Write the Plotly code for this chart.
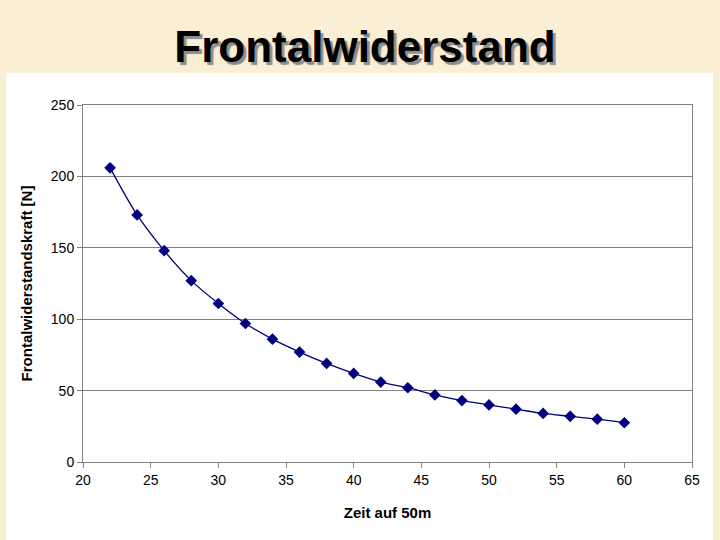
import plotly.graph_objects as go

# Frontalwiderstand over time on 50 m
zeit = [22, 24, 26, 28, 30, 32, 34, 36, 38, 40, 42, 44, 46, 48, 50, 52, 54, 56, 58, 60]
kraft = [206, 173, 148, 127, 111, 97, 86, 77, 69, 62, 56, 52, 47, 43, 40, 37, 34, 32, 30, 27.5]

x_ticks = [20, 25, 30, 35, 40, 45, 50, 55, 60, 65]
y_ticks = [0, 50, 100, 150, 200, 250]

NAVY = "#000080"
PLOT_GRAY = "#C0C0C0"
GRID = "#808080"
PARCHMENT = "#FAEED5"
FONT = "Liberation Sans, Arial, sans-serif"

fig = go.Figure(
    go.Scatter(
        x=zeit,
        y=kraft,
        mode="lines+markers",
        line=dict(color=NAVY, width=1.3, shape="spline", smoothing=0.8),
        marker=dict(symbol="diamond", size=9, color=NAVY),
        showlegend=False,
    )
)

# white card behind the chart, sitting on the parchment slide
fig.add_shape(
    type="rect", xref="paper", yref="paper", layer="below",
    x0=-77 / 609, x1=(713 - 83) / 609, y0=-78 / 357, y1=(462 - 73) / 357,
    fillcolor="white", line_width=0,
)

fig.update_layout(
    width=720,
    height=540,
    paper_bgcolor=PARCHMENT,
    plot_bgcolor=PLOT_GRAY,
    margin=dict(l=83, r=28, t=105, b=78, autoexpand=False),
    font=dict(family=FONT, size=14, color="black"),
    title=dict(
        text="<b>Frontalwiderstand</b>",
        x=365 / 720, xanchor="center", y=1 - 47 / 540, yanchor="middle",
        font=dict(family=FONT, size=44, color="black", shadow="3px 3px 1px #8C8C8C"),
    ),
)
fig.update_xaxes(
    range=[20, 65], tickvals=x_ticks, showgrid=False, zeroline=False,
    showline=True, linecolor=GRID, linewidth=1, mirror=True,
    ticks="outside", ticklen=5, tickcolor=GRID,
    title=dict(text="<b>Zeit auf 50m</b>", font=dict(size=15), standoff=20),
)
fig.update_yaxes(
    range=[0, 250], tickvals=y_ticks, showgrid=True, gridcolor=GRID, gridwidth=1,
    zeroline=False, showline=True, linecolor=GRID, linewidth=1, mirror=True,
    ticks="outside", ticklen=5, tickcolor=GRID,
    title=dict(text="<b>Frontalwiderstandskraft [N]</b>", font=dict(size=15), standoff=14),
)

fig.write_html(
    "out.html",
    config={"displayModeBar": False},
    post_script="document.body.style.margin='0';",
)
